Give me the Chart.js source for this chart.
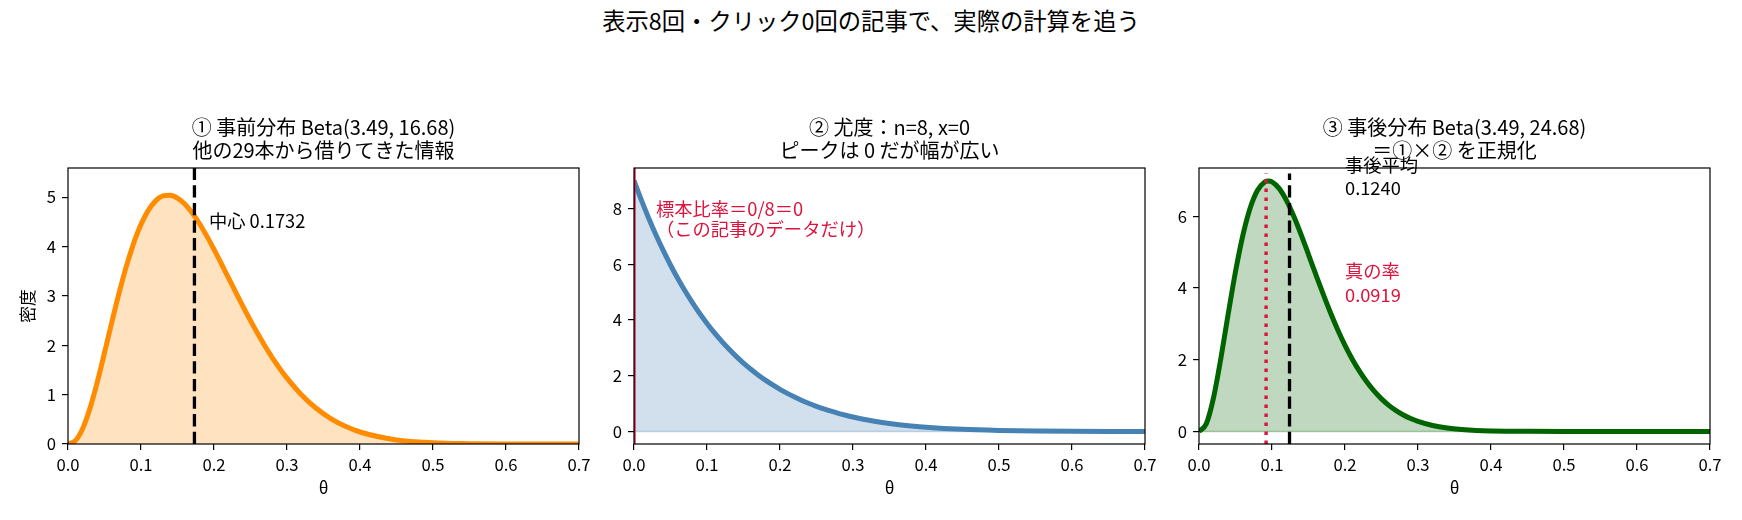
<!DOCTYPE html>
<html>
<head>
<meta charset="utf-8">
<script src="https://cdn.jsdelivr.net/npm/chart.js@4.4.1/dist/chart.umd.min.js"></script>
<style>
  html, body { margin: 0; padding: 0; background: #fff; }
  #wrap { position: relative; width: 1742px; height: 520px; overflow: hidden; }
  #suptitle {
    position: absolute; left: 0; top: 6px; width: 1742px; text-align: center;
    font-family: 'Noto Sans CJK JP', sans-serif; font-size: 23.3px; line-height: 28px; color: #000;
  }
  canvas { position: absolute; top: 100px; }
</style>
</head>
<body>
<div id="wrap">
  <div id="suptitle">表示8回・クリック0回の記事で、実際の計算を追う</div>
  <canvas id="c1" style="left:0px"></canvas>
  <canvas id="c2" style="left:604px"></canvas>
  <canvas id="c3" style="left:1172px"></canvas>
</div>
<script>
// theta grid (x values shared by the three panels)
const theta = [0, 0.01, 0.02, 0.03, 0.04, 0.05, 0.06, 0.07, 0.08, 0.09, 0.095,
  0.10, 0.11, 0.12, 0.13, 0.14, 0.15, 0.16, 0.17, 0.18, 0.19, 0.20,
  0.21, 0.22, 0.23, 0.24, 0.25, 0.26, 0.27, 0.28, 0.29, 0.30,
  0.32, 0.34, 0.36, 0.38, 0.40, 0.45, 0.50, 0.55, 0.60, 0.65, 0.70];

// ① prior density
const prior = [0, 0.064, 0.307, 0.718, 1.250, 1.849, 2.466, 3.060, 3.602, 4.069, 4.270,
  4.448, 4.733, 4.924, 5.024, 5.040, 4.982, 4.860, 4.684, 4.466, 4.215, 3.942,
  3.654, 3.360, 3.066, 2.777, 2.498, 2.231, 1.980, 1.746, 1.530, 1.333,
  0.994, 0.724, 0.515, 0.358, 0.243, 0.083, 0.024, 0.006, 0.001, 0.0002, 0.00002];

// ② likelihood (normalised)
const likelihood = [9.000, 8.305, 7.657, 7.054, 6.493, 5.971, 5.486, 5.036, 4.619, 4.232, 4.050,
  3.874, 3.543, 3.237, 2.954, 2.693, 2.452, 2.231, 2.027, 1.839, 1.668, 1.510,
  1.365, 1.233, 1.112, 1.002, 0.901, 0.810, 0.726, 0.650, 0.581, 0.519,
  0.411, 0.324, 0.253, 0.197, 0.151, 0.075, 0.035, 0.015, 0.006, 0.002, 0.001];

// ③ posterior density
const posterior = [0, 0.215, 0.951, 2.047, 3.278, 4.458, 5.465, 6.226, 6.721, 6.957, 6.985,
  6.962, 6.775, 6.438, 5.995, 5.483, 4.936, 4.380, 3.836, 3.319, 2.840, 2.404,
  2.016, 1.674, 1.377, 1.124, 0.909, 0.729, 0.581, 0.459, 0.359, 0.279,
  0.165, 0.095, 0.053, 0.028, 0.015, 0.003, 0.0003, 0, 0, 0, 0];

const priorMean = 0.1732;
const postMean = 0.1240;
const trueRate = 0.0919;
const sampleRate = 0;

const titles = [
  ['① 事前分布 Beta(3.49, 16.68)', '他の29本から借りてきた情報'],
  ['② 尤度：n=8, x=0', 'ピークは 0 だが幅が広い'],
  ['③ 事後分布 Beta(3.49, 24.68)', '＝①×② を正規化']
];

const FONT = "'Noto Sans CJK JP', sans-serif";
Chart.defaults.font.family = FONT;
Chart.defaults.color = '#000';

// frame, vertical reference lines and text notes
Chart.register({
  id: 'marks',
  beforeDatasetsDraw(chart, args, opts) {
    if (!opts.baseline) return;
    const {ctx, chartArea: a, scales: {y}} = chart;
    const py = y.getPixelForValue(0);
    ctx.save();
    ctx.strokeStyle = opts.baseline;
    ctx.lineWidth = 1.6;
    ctx.beginPath();
    ctx.moveTo(a.left, py);
    ctx.lineTo(a.right, py);
    ctx.stroke();
    ctx.restore();
  },
  afterDatasetsDraw(chart, args, opts) {
    const {ctx, chartArea: a, scales: {x, y}} = chart;
    ctx.save();
    ctx.beginPath();
    ctx.rect(a.left, a.top, a.right - a.left, a.bottom - a.top);
    ctx.clip();
    (opts.vlines || []).forEach(v => {
      const px = x.getPixelForValue(v.x);
      // v.top is a fraction of the axes height, like axvline(ymax=...)
      const top = a.bottom - (v.top || 1) * (a.bottom - a.top);
      ctx.beginPath();
      ctx.setLineDash(v.dash || []);
      ctx.strokeStyle = v.color;
      ctx.lineWidth = v.width;
      ctx.moveTo(px, a.bottom);
      ctx.lineTo(px, top);
      ctx.stroke();
    });
    ctx.restore();

    ctx.save();
    ctx.setLineDash([]);
    ctx.strokeStyle = '#000';
    ctx.lineWidth = 1.2;
    ctx.strokeRect(a.left, a.top, a.right - a.left, a.bottom - a.top);

    ctx.font = '18.3px ' + FONT;
    ctx.textAlign = 'left';
    ctx.textBaseline = 'middle';
    (opts.texts || []).forEach(t => {
      const px = x.getPixelForValue(t.x);
      const py = y.getPixelForValue(t.y);
      ctx.fillStyle = t.color;
      t.lines.forEach((s, i) => ctx.fillText(s, px, py + i * (t.gap || 0)));
    });
    ctx.restore();
  }
});

function makePanel(id, o) {
  const canvas = document.getElementById(id);
  canvas.width = o.w;
  canvas.height = 420;
  const axisGrid = {display: true, drawOnChartArea: false, drawTicks: true, tickLength: 6, color: '#000', lineWidth: 1.2};
  return new Chart(canvas.getContext('2d'), {
    type: 'line',
    data: {
      datasets: [{
        data: theta.map((t, i) => ({x: t, y: o.values[i]})),
        borderColor: o.color,
        backgroundColor: o.fill,
        borderWidth: 5,
        fill: 'origin',
        pointRadius: 0,
        pointHoverRadius: 0,
        cubicInterpolationMode: 'monotone',
        clip: 0
      }]
    },
    options: {
      responsive: false,
      animation: false,
      events: [],
      layout: {padding: {left: 0, right: o.right, top: 0, bottom: 0}},
      plugins: {
        legend: {display: false},
        tooltip: {enabled: false},
        title: {
          display: true,
          text: o.title,
          fullSize: false,
          color: '#000',
          font: {size: 20, weight: 'normal', lineHeight: 23.5 / 20},
          padding: {top: 15.25, bottom: 5.75}
        },
        marks: {vlines: o.vlines, texts: o.texts, baseline: o.baseline}
      },
      scales: {
        x: {
          type: 'linear',
          min: 0,
          max: 0.7,
          afterFit: s => { s.height = 76; },
          border: {display: false},
          grid: axisGrid,
          ticks: {stepSize: 0.1, padding: 5, maxRotation: 0, autoSkip: false, font: {size: 16.7},
            callback: v => v.toFixed(1)},
          title: {display: true, text: 'θ', font: {size: 16.7, lineHeight: 1.2}, padding: {top: 0, bottom: 22}}
        },
        y: {
          min: o.ymin,
          max: o.ymax,
          afterFit: s => { s.width = o.left; },
          border: {display: false},
          grid: axisGrid,
          ticks: {stepSize: o.step, padding: 6, includeBounds: false, font: {size: 16.7}},
          title: {display: !!o.ylabel, text: o.ylabel || '', font: {size: 16.7, lineHeight: 1.2}, padding: {top: 18, bottom: 0}}
        }
      }
    }
  });
}

makePanel('c1', {
  w: 604, left: 68, right: 25,
  values: prior, color: '#ff8c00', fill: 'rgba(255,140,0,0.25)',
  title: titles[0], ymin: 0, ymax: 5.59, step: 1, ylabel: '密度',
  vlines: [{x: priorMean, color: '#000', width: 3.3, dash: [12.3, 5.3]}],
  texts: [{x: 0.193, y: 4.51, lines: ['中心 ' + priorMean.toFixed(4)], color: '#000'}]
});

makePanel('c2', {
  w: 568, left: 30, right: 27,
  values: likelihood, color: '#4682b4', fill: 'rgba(70,130,180,0.25)',
  title: titles[1], ymin: -0.45, ymax: 9.45, step: 2,
  baseline: 'rgba(70,130,180,0.3)',
  vlines: [{x: sampleRate, color: '#dc143c', width: 3.3}],
  texts: [{x: 0.03, y: 7.97, gap: 20, lines: ['標本比率＝0/8＝0', '（この記事のデータだけ）'], color: '#dc143c'}]
});

makePanel('c3', {
  w: 570, left: 27, right: 32,
  values: posterior, color: '#006400', fill: 'rgba(0,100,0,0.25)',
  title: titles[2], ymin: -0.35, ymax: 7.35, step: 2,
  baseline: 'rgba(0,100,0,0.3)',
  vlines: [
    {x: trueRate, color: '#dc143c', width: 3.4, dash: [3.4, 5.6], top: 0.98},
    {x: postMean, color: '#000', width: 3.3, dash: [12.3, 5.3], top: 0.98}
  ],
  texts: [
    {x: 0.2, y: 7.43, gap: 23, lines: ['事後平均', postMean.toFixed(4)], color: '#000'},
    {x: 0.2, y: 4.48, gap: 24, lines: ['真の率', trueRate.toFixed(4)], color: '#dc143c'}
  ]
});
</script>
</body>
</html>
